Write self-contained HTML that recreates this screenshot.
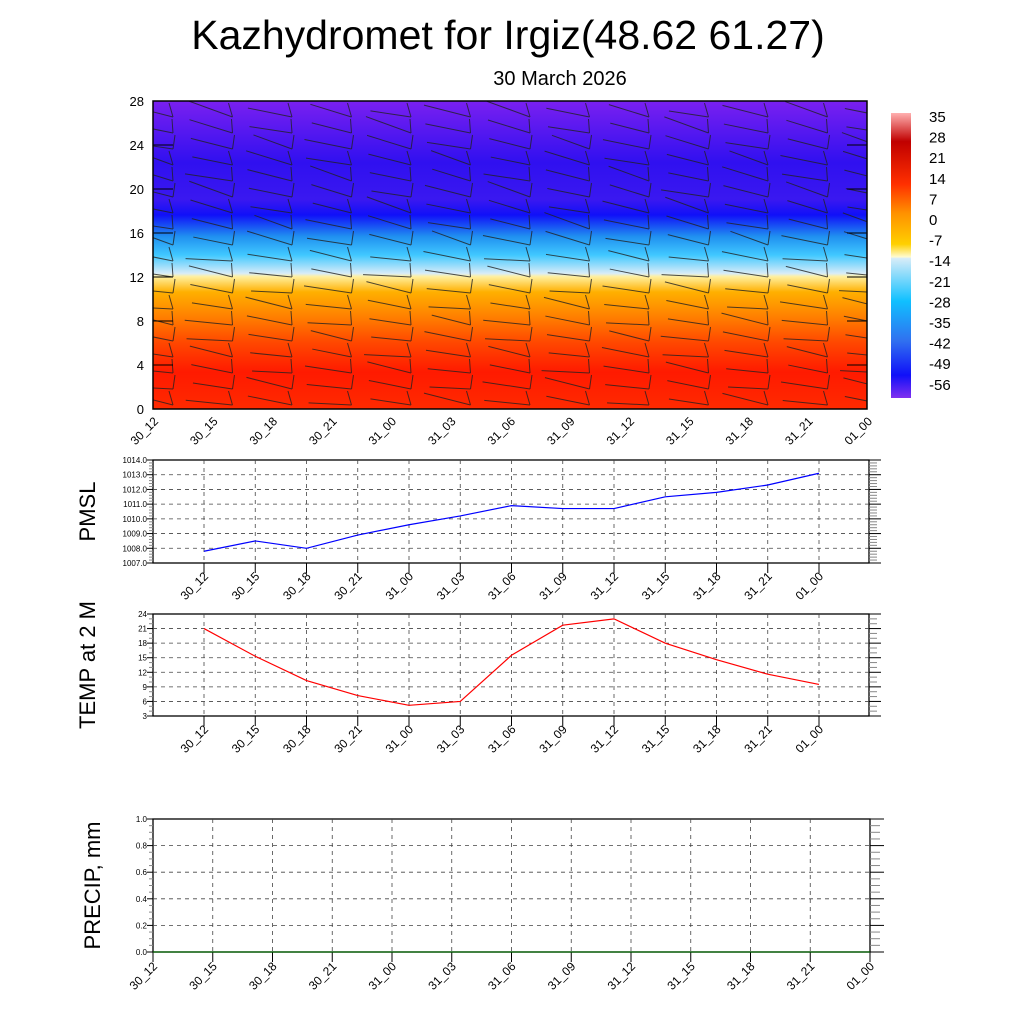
<!DOCTYPE html>
<html><head><meta charset="utf-8">
<style>html,body{margin:0;padding:0;background:#fff}svg{display:block}text{font-family:"Liberation Sans",sans-serif}</style>
</head><body>
<svg id="s" width="1024" height="1024" xmlns="http://www.w3.org/2000/svg">
<defs>
<clipPath id="cp"><rect x="153" y="101" width="714" height="308"/></clipPath>
<linearGradient id="tg" x1="0" y1="1" x2="0" y2="0">
<stop offset="0" stop-color="#ff2a00"/>
<stop offset="0.12" stop-color="#ff1a00"/>
<stop offset="0.22" stop-color="#ff4a00"/>
<stop offset="0.3" stop-color="#ff8000"/>
<stop offset="0.38" stop-color="#ffb000"/>
<stop offset="0.43" stop-color="#fff0a0"/>
<stop offset="0.44" stop-color="#d8ecf8"/>
<stop offset="0.5" stop-color="#40c8ff"/>
<stop offset="0.56" stop-color="#2090f0"/>
<stop offset="0.63" stop-color="#1010f8"/>
<stop offset="0.68" stop-color="#3a18f0"/>
<stop offset="0.8" stop-color="#3010f0"/>
<stop offset="1" stop-color="#7a20f0"/>
</linearGradient>
<linearGradient id="cb" x1="0" y1="0" x2="0" y2="1">
<stop offset="0" stop-color="#ffb0b0"/>
<stop offset="0.1" stop-color="#c00000"/>
<stop offset="0.25" stop-color="#ff3000"/>
<stop offset="0.35" stop-color="#ff9000"/>
<stop offset="0.46" stop-color="#ffd000"/>
<stop offset="0.505" stop-color="#fffbd0"/>
<stop offset="0.51" stop-color="#d8ecf8"/>
<stop offset="0.66" stop-color="#10c0ff"/>
<stop offset="0.8" stop-color="#3070f0"/>
<stop offset="0.92" stop-color="#1010f8"/>
<stop offset="1" stop-color="#8030f0"/>
</linearGradient>
</defs>
<text x="508" y="49" font-size="41" text-anchor="middle">Kazhydromet for Irgiz(48.62 61.27)</text>
<text x="560" y="85" font-size="20" text-anchor="middle">30 March 2026</text>
<rect x="153" y="101" width="714" height="308" fill="url(#tg)"/>
<g id="barbs" stroke="#222" stroke-width="1" fill="none" opacity="0.8" clip-path="url(#cp)"></g>
<rect x="153" y="101" width="714" height="308" fill="none" stroke="#000" stroke-width="1.5"/>
<rect x="891" y="113" width="20" height="285" fill="url(#cb)"/>
<g id="g"></g>
</svg>
<script>
const NS="http://www.w3.org/2000/svg";const g=document.getElementById('g');
function el(t,a,p){const e=document.createElementNS(NS,t);for(const k in a)e.setAttribute(k,a[k]);(p||g).appendChild(e);return e}
function tx(x,y,s,sz,anc,rot){const e=el('text',{x:x,y:y,'font-size':sz,'text-anchor':anc||'start'});if(rot)e.setAttribute('transform',`rotate(${rot} ${x} ${y})`);e.textContent=s;return e}
const labs=['30_12','30_15','30_18','30_21','31_00','31_03','31_06','31_09','31_12','31_15','31_18','31_21','01_00'];
for(let i=0;i<=7;i++){const y=409-i*44;tx(144,y+5,String(i*4),13,'end');el('line',{x1:153,y1:y,x2:173,y2:y,stroke:'#000'});el('line',{x1:847,y1:y,x2:867,y2:y,stroke:'#000'});}
for(let i=0;i<13;i++){const x=153+i*59.5;tx(x+6,422,labs[i],12,'end',-45);}
const bg=document.getElementById('barbs');
for(let i=0;i<13;i++){const x=153+i*59.5;for(let y=405;y>105;y-=16){
 const L=40+((i*7+y)%9);const ang=(y>260?-0.25:-0.35)+((i*13+y)%5)*0.05;
 const x2=x-L*Math.cos(ang)+20,y2=y+L*Math.sin(ang);
 el('line',{x1:x+20,y1:y,x2:x2,y2:y2},bg);
 el('line',{x1:x+20,y1:y,x2:x+16+((y%3)*3),y2:y-14},bg);}}
const cl=['35','28','21','14','7','0','-7','-14','-21','-28','-35','-42','-49','-56'];
cl.forEach((s,k)=>tx(929,122+k*20.6,s,15));
function panel(y0,y1,lo,hi,step,fmt,minor,label,data,col){
 const X0=153,X1=869;
 el('rect',{x:X0,y:y0,width:X1-X0,height:y1-y0,fill:'none',stroke:'#000','stroke-width':1.3});
 const n=(hi-lo)/step;
 for(let k=0;k<=n;k++){const y=y1-(y1-y0)*k/n;tx(X0-6,y+3,fmt(lo+k*step),8,'end');
  el('line',{x1:X0-6,y1:y,x2:X0,y2:y,stroke:'#000'});el('line',{x1:X1,y1:y,x2:X1+12,y2:y,stroke:'#000'});
  if(k>0&&k<n)el('line',{x1:X0,y1:y,x2:X1,y2:y,stroke:'#444','stroke-dasharray':'4,4','stroke-width':0.8});
  if(k<n)for(let m=1;m<minor;m++){const ym=y-(y1-y0)/n*m/minor;el('line',{x1:X0-4,y1:ym,x2:X0,y2:ym,stroke:'#888'});el('line',{x1:X1,y1:ym,x2:X1+8,y2:ym,stroke:'#888'});}}
 const pts=[];
 for(let i=0;i<13;i++){const x=204+i*51.25;el('line',{x1:x,y1:y0,x2:x,y2:y1,stroke:'#444','stroke-dasharray':'4,4','stroke-width':0.8});
  el('line',{x1:x,y1:y1,x2:x,y2:y1+10,stroke:'#000'});tx(x+5,y1+14,labs[i],12,'end',-45);
  pts.push(x+','+(y1-(y1-y0)*(data[i]-lo)/(hi-lo)));}
 el('polyline',{points:pts.join(' '),fill:'none',stroke:col,'stroke-width':1.2});
 tx(95,(y0+y1)/2,label,22,'middle',-90);
}
panel(460,563,1007,1014,1,v=>v.toFixed(1),5,'PMSL',[1007.8,1008.5,1008.0,1008.9,1009.6,1010.2,1010.9,1010.7,1010.7,1011.5,1011.8,1012.3,1013.1],'#00f');
panel(614,716,3,24,3,v=>String(v),3,'TEMP at 2 M',[21,15.3,10.3,7.2,5.2,6.0,15.5,21.7,23.0,18,14.6,11.6,9.5],'#f00');
(function(){const X0=153,X1=870,y0=819,y1=952;
 el('rect',{x:X0,y:y0,width:X1-X0,height:y1-y0,fill:'none',stroke:'#000','stroke-width':1.3});
 for(let k=0;k<=5;k++){const y=y1-(y1-y0)*k/5;tx(X0-6,y+3,(k/5).toFixed(1),8,'end');
  el('line',{x1:X0-6,y1:y,x2:X0,y2:y,stroke:'#000'});el('line',{x1:X1,y1:y,x2:X1+14,y2:y,stroke:'#000'});
  if(k>0&&k<5)el('line',{x1:X0,y1:y,x2:X1,y2:y,stroke:'#444','stroke-dasharray':'4,4','stroke-width':0.8});
  if(k<5)for(let m=1;m<4;m++){const ym=y-(y1-y0)/5*m/4;el('line',{x1:X0-4,y1:ym,x2:X0,y2:ym,stroke:'#888'});el('line',{x1:X1,y1:ym,x2:X1+10,y2:ym,stroke:'#888'});}}
 for(let i=0;i<13;i++){const x=X0+i*59.75;if(i>0&&i<12)el('line',{x1:x,y1:y0,x2:x,y2:y1,stroke:'#444','stroke-dasharray':'4,4','stroke-width':0.8});
  el('line',{x1:x,y1:y1,x2:x,y2:y1+10,stroke:'#000'});tx(x+5,y1+15,labs[i],12,'end',-45);}
 el('line',{x1:X0,y1:y1,x2:X1,y2:y1,stroke:'#060','stroke-width':1.2});
 tx(100,(y0+y1)/2,'PRECIP, mm',22,'middle',-90);
})();
</script>
</body></html>
